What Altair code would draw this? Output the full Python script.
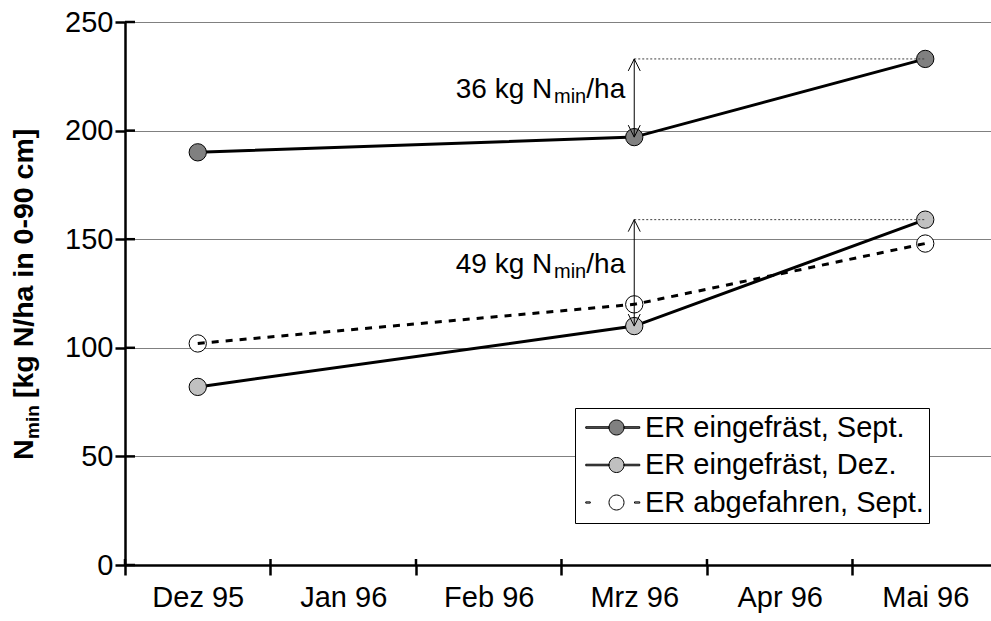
import json
import altair as alt
import pandas as pd

# ---- data -------------------------------------------------------------
months = ["Dez 95", "Jan 96", "Feb 96", "Mrz 96", "Apr 96", "Mai 96"]
sample_months = ["Dez 95", "Mrz 96", "Mai 96"]
series_names = ["ER eingefräst, Sept.", "ER eingefräst, Dez.", "ER abgefahren, Sept."]
sept_values = [190, 197, 233]
dez_values = [82, 110, 159]
abgefahren_values = [102, 120, 148]
y_ticks = [0, 50, 100, 150, 200, 250]

marker_fills = ["#808080", "#c0c0c0", "#ffffff"]
dashed = [False, False, True]

FONT = "Liberation Sans"
W, H = 866, 543
LABEL_SIZE = 29


def slot(m):
    """Centre of a month slot on the x scale."""
    return months.index(m) + 0.5


rows = []
for name, vals in zip(series_names, [sept_values, dez_values, abgefahren_values]):
    for m, v in zip(sample_months, vals):
        rows.append({"series": name, "month": m, "pos": slot(m), "value": v})
df = pd.DataFrame(rows)

# gain between Mrz 96 and Mai 96 for the two milled-in series
gain_rows = []
for vals in [sept_values, dez_values]:
    lo, hi = vals[1], vals[2]
    gain_rows.append({"pos": slot("Mrz 96"), "end": slot("Mai 96"),
                      "lo": lo, "hi": hi, "mid": (lo + hi) / 2,
                      "amount": f"{hi - lo} kg N"})
gains = pd.DataFrame(gain_rows)

# ---- scales / axes ----------------------------------------------------
x_scale = alt.Scale(domain=[0, 5.952], nice=False, zero=False)
y_scale = alt.Scale(domain=[0, 250], nice=False)

label_expr = ("datum.value % 1 == 0 ? '' : "
              + json.dumps(months) + "[floor(datum.value)]")

x_axis = alt.Axis(
    values=[i / 2 for i in range(2 * len(months))],
    labelExpr=label_expr, title=None, grid=False,
    tickSize=10, tickWidth=2.5, tickColor="black",
    tickOpacity={"condition": {"test": "datum.value % 1 != 0", "value": 0}, "value": 1},
    domainColor="black", domainWidth=2.5,
    labelFontSize=LABEL_SIZE, labelFont=FONT, labelColor="black",
    labelPadding=8, labelOverlap=False, labelBound=False, labelFlush=False,
)
y_axis = alt.Axis(
    values=y_ticks, title=None, grid=True, gridColor="#808080", gridWidth=1,
    tickSize=10, tickWidth=2.5, tickColor="black",
    domainColor="black", domainWidth=2.5,
    labelFontSize=LABEL_SIZE, labelFont=FONT, labelColor="black", labelPadding=2,
)


def xq(field):
    return alt.X(f"{field}:Q", scale=x_scale, axis=x_axis)


def yq(field):
    return alt.Y(f"{field}:Q", scale=y_scale, axis=y_axis)


fill_scale = alt.Scale(domain=series_names, range=marker_fills)
stroke_scale = alt.Scale(domain=series_names, range=["black"] * len(series_names))

# legend symbols: marker with line stubs (solid or dashed)
circle = "M-1,0A1,1 0 1,0 1,0A1,1 0 1,0 -1,0Z"
solid_sym = "M-4.1,-0.1H-1V0.1H-4.1Z M1,-0.1H3.1V0.1H1Z " + circle
dash_sym = "M-4.1,-0.08H-3.5V0.08H-4.1Z M2.4,-0.08H3.1V0.08H2.4Z " + circle
shape_scale = alt.Scale(domain=series_names,
                        range=[dash_sym if d else solid_sym for d in dashed])

legend = alt.Legend(
    title=None, orient="none", legendX=450, legendY=386, direction="vertical",
    fillColor="white", strokeColor="black", padding=5,
    labelFontSize=LABEL_SIZE, labelFont=FONT, labelColor="black", labelLimit=0,
    symbolSize=225, symbolOffset=22, labelOffset=14, rowPadding=7.5,
    symbolStrokeWidth=1, symbolStrokeColor="black",
)

solid_names = [n for n, d in zip(series_names, dashed) if not d]
dash_names = [n for n, d in zip(series_names, dashed) if d]

# ---- layers -----------------------------------------------------------
solid_lines = alt.Chart(df[df.series.isin(solid_names)]).mark_line(
    color="black", strokeWidth=3
).encode(x=xq("pos"), y=yq("value"), detail="series:N")

point_layers = [
    alt.Chart(df[df.series == name]).mark_point(
        filled=True, shape="circle", size=300, fill=fill,
        stroke="black", strokeWidth=1, opacity=1
    ).encode(x=xq("pos"), y=yq("value"))
    for name, fill in zip(series_names, marker_fills)
]

dash_line = alt.Chart(df[df.series.isin(dash_names)]).mark_line(
    color="black", strokeWidth=3, strokeDash=[7, 7]
).encode(x=xq("pos"), y=yq("value"), detail="series:N")

guides = alt.Chart(gains).mark_rule(
    color="#404040", strokeWidth=1, strokeDash=[2, 2]
).encode(x=xq("pos"), x2="end:Q", y=yq("hi"))

shafts = alt.Chart(gains).mark_rule(color="black", strokeWidth=1).encode(
    x=xq("pos"), y=yq("lo"), y2="hi:Q")

head_up = alt.Chart(gains).mark_point(
    shape="M-1,2L0,0L1,2", size=144, filled=False, color="black", strokeWidth=1, opacity=1
).encode(x=xq("pos"), y=yq("hi"))

head_down = alt.Chart(gains).mark_point(
    shape="M-1,-2L0,0L1,-2", size=144, filled=False, color="black", strokeWidth=1, opacity=1
).encode(x=xq("pos"), y=yq("lo"))

gain_main = alt.Chart(gains).mark_text(
    align="right", baseline="middle", font=FONT, fontSize=28, color="black", dx=-82, dy=-8
).encode(x=xq("pos"), y=yq("mid"), text="amount:N")
gain_sub = alt.Chart(gains).mark_text(
    align="right", baseline="middle", font=FONT, fontSize=20, color="black", dx=-48, dy=-1
).encode(x=xq("pos"), y=yq("mid"), text=alt.value("min"))
gain_unit = alt.Chart(gains).mark_text(
    align="right", baseline="middle", font=FONT, fontSize=28, color="black", dx=-9, dy=-8
).encode(x=xq("pos"), y=yq("mid"), text=alt.value("/ha"))

# tick marks crossing the axis lines
y_tick_df = pd.DataFrame({"value": y_ticks})
x_tick_df = pd.DataFrame({"pos": list(range(len(months)))})
y_inner = alt.Chart(y_tick_df).mark_rule(color="black", strokeWidth=2.5).encode(
    y=yq("value"), x=alt.value(0), x2=alt.value(10))
x_inner = alt.Chart(x_tick_df).mark_rule(color="black", strokeWidth=2.5).encode(
    x=xq("pos"), y=alt.value(H - 6), y2=alt.value(H))

# y axis title with subscript
one = pd.DataFrame({"t": [""]})
t_n = alt.Chart(one).mark_text(
    text="N", angle=270, align="left", baseline="alphabetic",
    font=FONT, fontSize=28.5, fontWeight="bold", color="black"
).encode(x=alt.value(-92), y=alt.value(438))
t_min = alt.Chart(one).mark_text(
    text="min", angle=270, align="left", baseline="alphabetic",
    font=FONT, fontSize=19, fontWeight="bold", color="black"
).encode(x=alt.value(-86), y=alt.value(417))
t_rest = alt.Chart(one).mark_text(
    text="[kg N/ha in 0-90 cm]", angle=270, align="left", baseline="alphabetic",
    font=FONT, fontSize=28.5, fontWeight="bold", color="black"
).encode(x=alt.value(-92), y=alt.value(376))

# legend carrier (no marks drawn, only the legend from the scale domain)
legend_layer = alt.Chart(df).transform_filter("false").mark_point(
    filled=True, strokeWidth=1, opacity=1
).encode(
    x=xq("pos"), y=yq("value"),
    fill=alt.Fill("series:N", scale=fill_scale, legend=legend),
    shape=alt.Shape("series:N", scale=shape_scale, legend=legend),
    stroke=alt.Stroke("series:N", scale=stroke_scale, legend=legend),
)

chart = alt.layer(
    solid_lines, *point_layers, dash_line, guides, shafts, head_up, head_down,
    gain_main, gain_sub, gain_unit, y_inner, x_inner, t_n, t_min, t_rest,
    legend_layer,
).properties(
    width=W, height=H,
    autosize=alt.AutoSizeParams(type="none"),
    padding={"left": 125, "top": 22, "right": 0, "bottom": 56},
    background="white",
).configure_view(stroke=None)

chart.save("out.html", embed_options={"renderer": "svg", "actions": False})
